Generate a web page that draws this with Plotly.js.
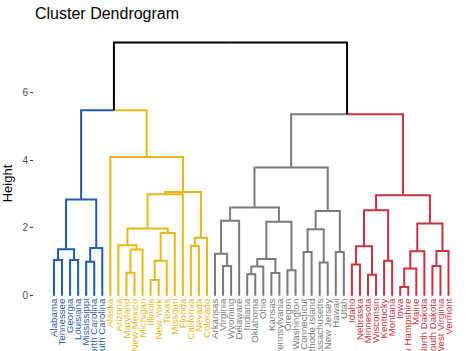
<!DOCTYPE html>
<html><head><meta charset="utf-8">
<script src="https://cdn.plot.ly/plotly-3.0.1.min.js"></script>
<style>html,body{margin:0;padding:0;background:#fff;} #chart{width:474px;height:351px;}</style>
</head><body><div id="chart"></div>
<script>
// Leaf labels in dendrogram order (left to right)
const leafLabels = ["Alabama","Tennessee","Georgia","Louisiana","Mississippi","North Carolina","South Carolina",
  "Alaska","Arizona","Maryland","New Mexico","Michigan","Illinois","New York","Texas","Missouri","Florida","California","Nevada","Colorado",
  "Arkansas","Virginia","Wyoming","Delaware","Indiana","Oklahoma","Ohio","Kansas","Pennsylvania","Oregon","Washington","Connecticut","Rhode Island","Massachusetts","New Jersey","Hawaii","Utah",
  "Idaho","Nebraska","Minnesota","Wisconsin","Kentucky","Montana","Iowa","New Hampshire","Maine","North Dakota","South Dakota","West Virginia","Vermont"];
// Number of consecutive leaves in each of the 4 clusters
const clusterSizes = [7, 13, 17, 13];
const clusterColors = ["#1F5CA9", "#E8B714", "#7A7A7A", "#C8313D"];
const rootColor = "#000000";
// Merge table (R hclust style): negative = leaf position (1-based), positive = earlier merge step
const mergeLeft  = [-1,-3,1,-5,4,3,-10,7,-9,-13,10,11,9,13,-18,15,14,-8,6,-22,-21,21,-25,23,-28,24,-30,26,22,-32,-34,30,-36,32,29,-38,-40,36,-42,38,-44,41,42,-48,44,43,40,35,19];
const mergeRight = [-2,-4,2,-6,-7,5,-11,-12,8,-14,-15,-16,12,-17,-19,-20,16,17,18,-23,20,-24,-26,-27,-29,25,-31,27,28,-33,-35,31,-37,33,34,-39,-41,37,-43,39,-45,-46,-47,-49,-50,45,46,47,48];
const mergeHeight = [1.05,1.05,1.37,1.00,1.41,2.84,0.68,1.36,1.49,0.46,1.03,1.85,1.98,2.99,1.47,1.71,3.06,4.09,5.47,0.88,1.24,2.21,0.63,0.86,0.67,1.08,0.75,2.18,2.60,1.29,0.98,1.96,1.29,2.50,3.78,0.92,0.62,1.46,1.03,2.52,0.26,0.80,1.31,0.88,1.32,2.13,2.96,5.35,7.47];
const yTickValues = [0, 2, 4, 6];

// leaf clusters
const leafCluster = [];
clusterSizes.forEach((n, c) => { for (let i = 0; i < n; i++) leafCluster.push(c); });

function nodeInfo(ref, merges) {
  if (ref < 0) return {x: -ref, h: 0, c: leafCluster[-ref - 1]};
  return merges[ref - 1];
}
const merges = [];
const segs = {};
function addSeg(color, xs, ys) {
  if (!segs[color]) segs[color] = {x: [], y: []};
  segs[color].x.push(...xs, null);
  segs[color].y.push(...ys, null);
}
for (let i = 0; i < mergeLeft.length; i++) {
  const a = nodeInfo(mergeLeft[i], merges), b = nodeInfo(mergeRight[i], merges);
  const h = mergeHeight[i];
  const x = (a.x + b.x) / 2;
  const c = (a.c === b.c) ? a.c : -1;
  merges.push({x: x, h: h, c: c});
  [a, b].forEach(ch => {
    const col = ch.c >= 0 ? clusterColors[ch.c] : rootColor;
    addSeg(col, [x, ch.x, ch.x], [h, h, ch.h]);
  });
}
const traces = Object.keys(segs).map(col => ({
  type: 'scatter', mode: 'lines', x: segs[col].x, y: segs[col].y,
  line: {color: col, width: 2}, hoverinfo: 'skip', showlegend: false
}));

const yRange = [-1.1, 7.72];
const tickText = leafLabels.map((l, i) => '<span style="color:' + clusterColors[leafCluster[i]] + '">' + l + '</span>');
const font = "Liberation Sans, Arial, sans-serif";
const layout = {
  width: 474, height: 351,
  margin: {l: 34, r: 6, t: 34, b: 18, pad: 0},
  paper_bgcolor: '#fff', plot_bgcolor: '#fff',
  font: {family: font},
  title: {text: 'Cluster Dendrogram', font: {size: 16, color: '#000', family: font},
    x: 35 / 474, xref: 'container', xanchor: 'left', y: 1 - 13 / 351, yref: 'container', yanchor: 'middle'},
  xaxis: {range: [-1.48, 52.42], anchor: 'free', position: (0 - yRange[0]) / (yRange[1] - yRange[0]),
    tickvals: leafLabels.map((_, i) => i + 1), ticktext: tickText, tickangle: -90,
    ticks: '', showline: false, showgrid: false, zeroline: false, automargin: false,
    tickfont: {size: 9.7, family: font}},
  yaxis: {range: yRange, tickvals: yTickValues, ticktext: yTickValues.map(String),
    ticks: 'outside', ticklen: 3, tickcolor: '#333', tickwidth: 1,
    showline: false, showgrid: false, zeroline: false, automargin: false,
    tickfont: {size: 10, color: '#4d4d4d', family: font},
    title: {text: 'Height', standoff: 6, font: {size: 13, color: '#000', family: font}}},
  showlegend: false, hovermode: false
};
Plotly.newPlot('chart', traces, layout, {displayModeBar: false, staticPlot: true});
</script>
</body></html>
